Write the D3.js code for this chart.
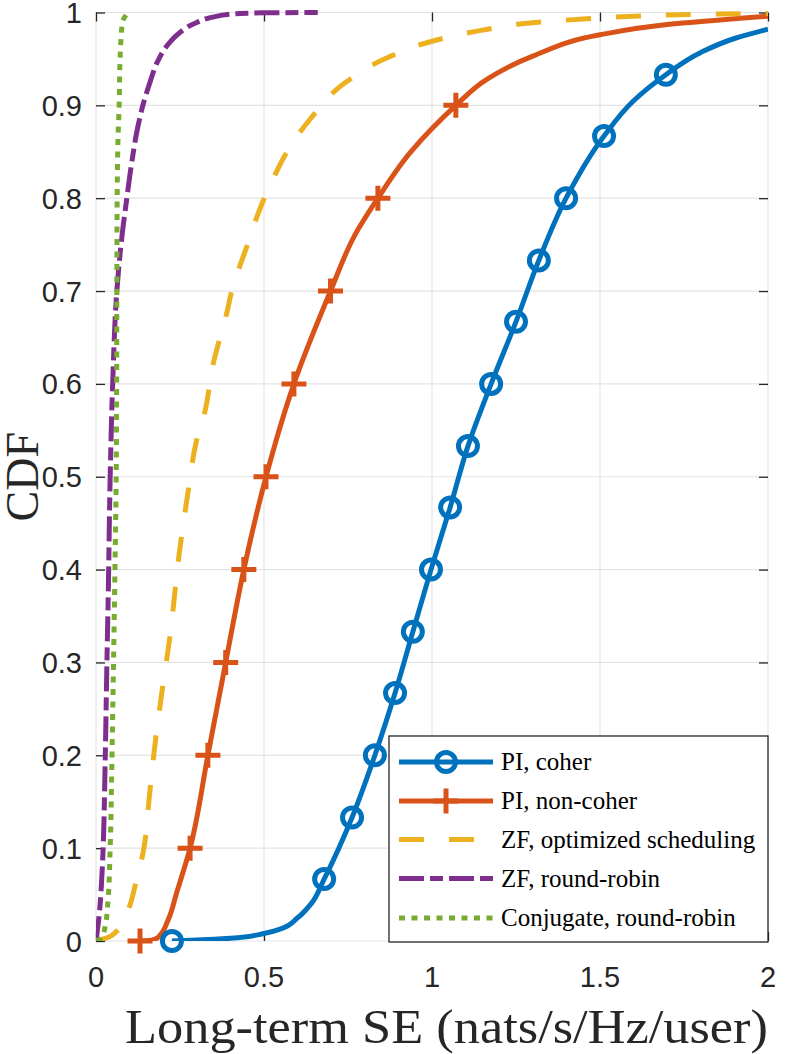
<!DOCTYPE html>
<html><head><meta charset="utf-8">
<script src="https://cdn.jsdelivr.net/npm/d3@7"></script>
<style>html,body{margin:0;padding:0;background:#fff;}</style>
</head><body>
<svg id="c" width="806" height="1054"></svg>
<script>
// ---- data ----
const xTicks = [0, 0.5, 1, 1.5, 2];
const xTickLabels = ["0", "0.5", "1", "1.5", "2"];
const yTicks = [0, 0.1, 0.2, 0.3, 0.4, 0.5, 0.6, 0.7, 0.8, 0.9, 1];
const yTickLabels = ["0", "0.1", "0.2", "0.3", "0.4", "0.5", "0.6", "0.7", "0.8", "0.9", "1"];
const seriesNames = ["PI, coher", "PI, non-coher", "ZF, optimized scheduling", "ZF, round-robin", "Conjugate, round-robin"];

const piCoherX = [0.226,0.3,0.4,0.5,0.55,0.6,0.64,0.679,0.762,0.83,0.89,0.943,0.997,1.054,1.107,1.176,1.25,1.318,1.399,1.512,1.60,1.696,1.8,1.9,2.0];
const piCoherY = [0,0.001,0.003,0.008,0.013,0.025,0.04,0.0667,0.133,0.2,0.267,0.333,0.4,0.467,0.533,0.6,0.667,0.733,0.8,0.867,0.905,0.933,0.957,0.972,0.982];
const piCoherMarkX = [0.226,0.679,0.762,0.83,0.89,0.943,0.997,1.054,1.107,1.176,1.25,1.318,1.399,1.512,1.696];
const piCoherMarkY = [0,0.0667,0.133,0.2,0.267,0.333,0.4,0.467,0.533,0.6,0.667,0.733,0.8,0.867,0.933];

const piNonX = [0.131,0.16,0.185,0.215,0.24,0.28,0.333,0.386,0.44,0.506,0.589,0.698,0.77,0.839,0.935,1.0,1.071,1.163,1.3,1.5,1.7,2.0];
const piNonY = [0,0.0005,0.004,0.023,0.052,0.1,0.2,0.3,0.4,0.5,0.6,0.7,0.76,0.8,0.849,0.875,0.9,0.928,0.953,0.976,0.987,0.996];
const piNonMarkX = [0.131,0.28,0.333,0.386,0.44,0.506,0.589,0.698,0.839,1.071];
const piNonMarkY = [0,0.1,0.2,0.3,0.4,0.5,0.6,0.7,0.8,0.9];

const zfOptX = [0,0.03,0.06,0.095,0.12,0.14,0.16,0.175,0.195,0.22,0.248,0.275,0.3,0.324,0.349,0.367,0.389,0.404,0.429,0.453,0.478,0.503,0.538,0.567,0.637,0.74,0.865,1.0,1.15,1.3,1.45,1.6,1.8,2.0];
const zfOptY = [0,0.003,0.01,0.033,0.065,0.095,0.16,0.21,0.265,0.328,0.418,0.486,0.54,0.57,0.622,0.647,0.676,0.7,0.728,0.752,0.779,0.802,0.829,0.849,0.885,0.924,0.951,0.969,0.981,0.989,0.993,0.996,0.998,0.999];

const zfRrX = [0,0.01,0.016,0.021,0.027,0.032,0.037,0.042,0.05,0.062,0.076,0.091,0.107,0.124,0.141,0.16,0.183,0.213,0.248,0.298,0.347,0.407,0.5,0.66];
const zfRrY = [0,0.03,0.06,0.098,0.188,0.29,0.385,0.497,0.604,0.7,0.755,0.798,0.84,0.876,0.902,0.924,0.947,0.965,0.978,0.989,0.995,0.9985,0.9996,1.0];

const conjX = [0,0.015,0.027,0.035,0.042,0.047,0.052,0.056,0.06,0.0615,0.062,0.063,0.066,0.069,0.071,0.078,0.094];
const conjY = [0,0.003,0.015,0.04,0.098,0.188,0.296,0.39,0.497,0.604,0.7,0.8,0.87,0.9,0.942,0.988,1.0];

// ---- layout ----
const L = 96, R = 768, T = 12.5, B = 941;
const colors = ["#0072BD", "#D95319", "#EDB120", "#7E2F8E", "#77AC30"];
const dashes = [null, null, "25,25", "25,6,13,6", "6,6.5"];
const LW = 5;

const svg = d3.select("#c");
const x = d3.scaleLinear().domain([0, 2]).range([L, R]);
const y = d3.scaleLinear().domain([0, 1]).range([B, T]);

// grid
const g = svg.append("g");
g.selectAll(".gx").data(xTicks).enter().append("line")
  .attr("x1", d => x(d)).attr("x2", d => x(d)).attr("y1", T).attr("y2", B)
  .attr("stroke", "#e3e3e3").attr("stroke-width", 1.2);
g.selectAll(".gy").data(yTicks).enter().append("line")
  .attr("y1", d => y(d)).attr("y2", d => y(d)).attr("x1", L).attr("x2", R)
  .attr("stroke", "#e3e3e3").attr("stroke-width", 1.2);

// axes (ticks inside, box)
const tickLen = 9;
const axB = d3.axisBottom(x).tickValues(xTicks).tickSize(-tickLen).tickFormat("");
const axT = d3.axisTop(x).tickValues(xTicks).tickSize(-tickLen).tickFormat("");
const axLf = d3.axisLeft(y).tickValues(yTicks).tickSize(-tickLen).tickFormat("");
const axRt = d3.axisRight(y).tickValues(yTicks).tickSize(-tickLen).tickFormat("");
[[axB, `translate(0,${B})`], [axT, `translate(0,${T})`], [axLf, `translate(${L},0)`], [axRt, `translate(${R},0)`]].forEach(([a, tr]) => {
  const ag = svg.append("g").attr("transform", tr).call(a);
  ag.select(".domain").remove();
  ag.selectAll("line").attr("stroke", "#262626").attr("stroke-width", 1.3);
});

// tick labels
svg.append("g").selectAll("text").data(xTicks).enter().append("text")
  .attr("x", d => x(d)).attr("y", 987).attr("text-anchor", "middle")
  .attr("font-family", "Liberation Sans, Arial, sans-serif").attr("font-size", 29).attr("fill", "#262626")
  .text((d, i) => xTickLabels[i]);
svg.append("g").selectAll("text").data(yTicks).enter().append("text")
  .attr("x", 82).attr("y", d => y(d) + 10.5).attr("text-anchor", "end")
  .attr("font-family", "Liberation Sans, Arial, sans-serif").attr("font-size", 29).attr("fill", "#262626")
  .text((d, i) => yTickLabels[i]);

// axis titles
svg.append("text").attr("x", (125 + 768) / 2).attr("y", 1043).attr("text-anchor", "middle")
  .attr("font-family", "Liberation Serif, Times New Roman, serif").attr("font-size", 48).attr("fill", "#262626")
  .attr("textLength", 643).attr("lengthAdjust", "spacingAndGlyphs")
  .text("Long-term SE (nats/s/Hz/user)");
svg.append("text").attr("transform", `translate(38,${(T + B) / 2}) rotate(-90)`).attr("text-anchor", "middle")
  .attr("font-family", "Liberation Serif, Times New Roman, serif").attr("font-size", 46).attr("fill", "#262626")
  .text("CDF");

// curves
svg.append("clipPath").attr("id", "clip").append("rect").attr("x", L).attr("y", T - 3).attr("width", R - L).attr("height", B - T + 3);
const plot = svg.append("g").attr("clip-path", "url(#clip)");
const line = d3.line().x(d => x(d[0])).y(d => y(d[1])).curve(d3.curveMonotoneY);
const series = [
  d3.zip(piCoherX, piCoherY), d3.zip(piNonX, piNonY), d3.zip(zfOptX, zfOptY), d3.zip(zfRrX, zfRrY), d3.zip(conjX, conjY)
];
series.forEach((s, i) => {
  plot.append("path").datum(s).attr("d", line).attr("fill", "none")
    .attr("stroke", colors[i]).attr("stroke-width", LW)
    .attr("stroke-dasharray", dashes[i]).attr("stroke-linejoin", "round");
});

// markers
const mg = svg.append("g");
mg.selectAll(".circ").data(d3.zip(piCoherMarkX, piCoherMarkY)).enter().append("circle")
  .attr("cx", d => x(d[0])).attr("cy", d => y(d[1])).attr("r", 9.5)
  .attr("fill", "none").attr("stroke", colors[0]).attr("stroke-width", LW);
const plus = (sel, cx, cy, col) => {
  sel.append("path").attr("d", `M${cx - 12.5},${cy}H${cx + 12.5}M${cx},${cy - 12.5}V${cy + 12.5}`)
    .attr("stroke", col).attr("stroke-width", LW).attr("fill", "none");
};
d3.zip(piNonMarkX, piNonMarkY).forEach(d => plus(mg, x(d[0]), y(d[1]), colors[1]));

// legend
const lg = svg.append("g");
lg.append("rect").attr("x", 389).attr("y", 736).attr("width", 379).attr("height", 206)
  .attr("fill", "#fff").attr("stroke", "#262626").attr("stroke-width", 1.3);
const rowY = [762, 801, 839.5, 878.5, 918];
seriesNames.forEach((name, i) => {
  lg.append("line").attr("x1", 399).attr("x2", 493).attr("y1", rowY[i]).attr("y2", rowY[i])
    .attr("stroke", colors[i]).attr("stroke-width", LW).attr("stroke-dasharray", dashes[i]);
  if (i === 0) lg.append("circle").attr("cx", 446).attr("cy", rowY[i]).attr("r", 9.5)
    .attr("fill", "none").attr("stroke", colors[0]).attr("stroke-width", LW);
  if (i === 1) plus(lg, 446, rowY[i], colors[1]);
  lg.append("text").attr("x", 501).attr("y", rowY[i] + 8).attr("font-family", "Liberation Serif, Times New Roman, serif")
    .attr("font-size", 25).attr("fill", "#000").text(name);
});
</script>
</body></html>
